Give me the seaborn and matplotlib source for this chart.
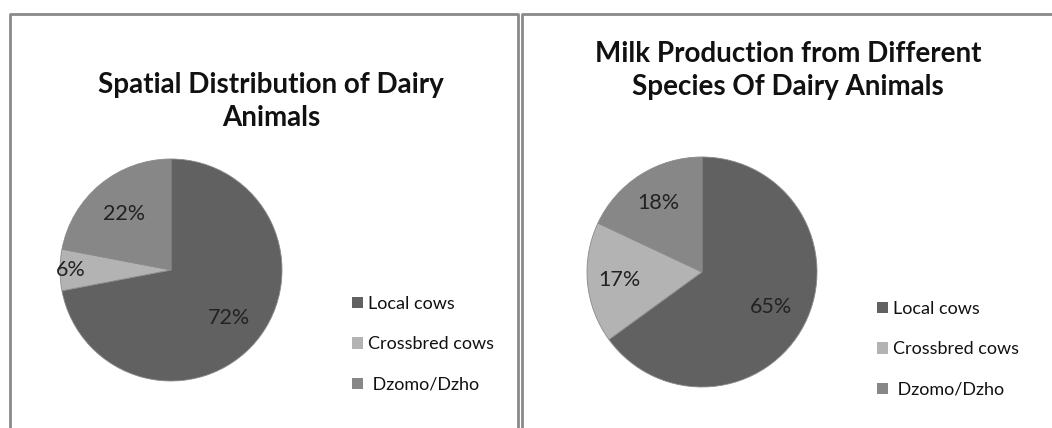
import matplotlib
matplotlib.use("Agg")
import matplotlib.pyplot as plt
from matplotlib.patches import Rectangle
from matplotlib.lines import Line2D
import seaborn as sns

sns.set_theme(style="white")
plt.rcParams['font.family'] = ['Lato', 'DejaVu Sans']

categories = ["Local cows", "Crossbred cows", "Dzomo/Dzho"]
dist_values = [72, 6, 22]
milk_values = [65, 17, 18]
titles = ["Spatial Distribution of Dairy\nAnimals",
          "Milk Production from Different\nSpecies Of Dairy Animals"]
colors = ["#616161", "#b3b3b3", "#878787"]

W, H = 1052, 428
fig = plt.figure(figsize=(W / 100, H / 100), dpi=100)
fig.patch.set_facecolor("white")

def fx(x):
    return x / W

def fy(y):
    return 1 - y / H

# panel borders
for (x0, x1) in [(10, 518), (522, 1060)]:
    fig.add_artist(Line2D([fx(x0), fx(x0), fx(x1), fx(x1)],
                          [fy(440), fy(14), fy(14), fy(440)],
                          color="#8a8a8a", lw=2, transform=fig.transFigure))

def pie_panel(values, cx, cy, r, title, tx, ty, lx, ly, pct_dists):
    ax = fig.add_axes([fx(cx - r), fy(cy + r), 2 * r / W, 2 * r / H])
    wedges, texts, autotexts = ax.pie(
        values, colors=colors, startangle=90, counterclock=False,
        autopct=lambda p: f"{p:.0f}%", pctdistance=0.7,
        wedgeprops=dict(linewidth=0.6, edgecolor="#8a8a8a"),
        textprops=dict(fontsize=15.5, color="#222222"))
    for t, d in zip(autotexts, pct_dists):
        x, y = t.get_position()
        t.set_position((x * d / 0.7, y * d / 0.7))
    ax.set_xlim(-1.0, 1.0)
    ax.set_ylim(-1.0, 1.0)
    ax.set_aspect("auto")
    ax.axis("off")
    fig.text(fx(tx), fy(ty), title, ha="center", va="center",
             fontsize=20, fontweight="bold", color="#111111", linespacing=1.32)
    handles = [Rectangle((0, 0), 1, 1, facecolor=c, edgecolor="none") for c in colors]
    labels = [categories[0], categories[1], " " + categories[2]]
    fig.legend(handles, labels, loc="upper left",
               bbox_to_anchor=(fx(lx), fy(ly)), frameon=False,
               fontsize=13, handlelength=0.6, handleheight=0.6,
               handletextpad=0.3, labelspacing=1.35, borderpad=0,
               borderaxespad=0, labelcolor="#111111")

pie_panel(dist_values, 171, 270, 111, titles[0], 271, 101.5, 352, 296,
          [0.68, 0.9, 0.66])
pie_panel(milk_values, 702, 272, 115, titles[1], 788, 70.5, 877, 301,
          [0.67, 0.72, 0.71])

fig.savefig("out.png", dpi=100, facecolor="white")
